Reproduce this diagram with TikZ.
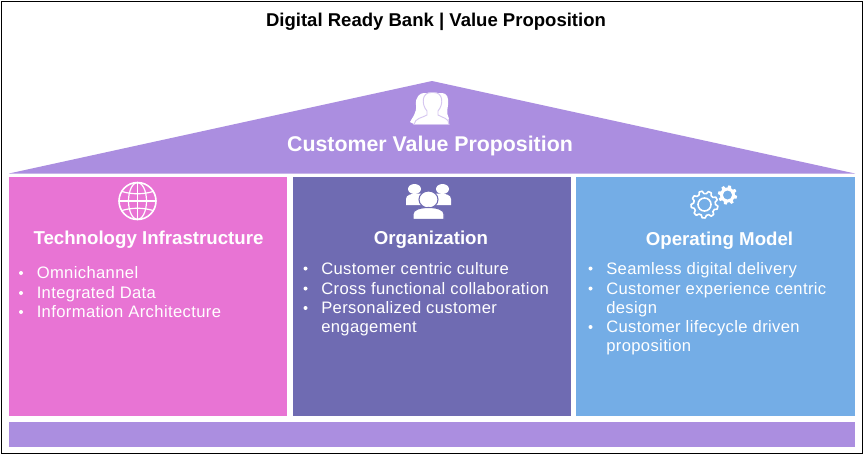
\documentclass[tikz,border=0pt]{standalone}
\usepackage{fontspec}
\setmainfont{Liberation Sans}
\newfontfamily\bodyfont[LetterSpace=2.2]{Liberation Sans}
\definecolor{roofc}{HTML}{AB8EE0}
\definecolor{roofl}{HTML}{D5C6F0}
\definecolor{pinkc}{HTML}{E874D4}
\definecolor{indigoc}{HTML}{6F6BB2}
\definecolor{bluec}{HTML}{74ADE6}
\newcommand{\bodyfs}{\bodyfont\fontsize{12.45pt}{14.5pt}\selectfont}
\tikzset{
  x=0.75pt,y=-0.75pt,
  panel/.style={fill=#1,draw=none},
  heading/.style={text=white,font=\bfseries\fontsize{14pt}{16pt}\selectfont,anchor=center,inner sep=0pt},
  item/.style={text=white,font=\bodyfs,anchor=base west,inner sep=0pt,align=left},
  dotb/.style={fill=white,draw=none},
  iconline/.style={draw=white,line width=1pt,fill=none},
  iconfill/.style={fill=white,draw=none},
}
\begin{document}
\begin{tikzpicture}
\useasboundingbox (0,0) rectangle (864,454);
\fill[white] (0,0) rectangle (864,454);
\draw[black,line width=0.75pt] (1,1) rectangle (862.5,453);
\node[inner sep=0pt,font=\bfseries\fontsize{13.9pt}{15pt}\selectfont] (title) at (436,22) {Digital Ready Bank | Value Proposition};
\fill[panel=roofc] (9,173.5) -- (432,81) -- (855,173.5) -- cycle;
\node[heading,font=\bfseries\fontsize{16pt}{17pt}\selectfont] (cvp) at (430,145.5) {Customer Value Proposition};
\fill[panel=pinkc] (9,177) rectangle (287,416);
\fill[panel=indigoc] (293,177) rectangle (571,416);
\fill[panel=bluec] (576,177) rectangle (855,416);
\fill[panel=roofc] (9,422) rectangle (855,447);
\node[heading] (h1) at (148.5,240) {Technology Infrastructure};
\node[heading] (h2) at (431,240) {Organization};
\node[heading] (h3) at (719.5,241) {Operating Model};
% people icon in roof: back figures
\fill[iconfill] (410,122) .. controls (412,118) and (417,113) .. (416,105) .. controls (415,97) and (420,93) .. (424,93) -- (442,93) .. controls (447,93) and (449,98) .. (448,105) .. controls (447,111) and (447,114) .. (448,116) .. controls (450,118) and (448,124) .. (446,124) -- (414,124) -- cycle;
% front figure outline
\draw[roofl,line width=.7pt,fill=white] (414,124.5) .. controls (415,118) and (422,118) .. (427,115) -- (427,111) .. controls (421,104) and (422,92.5) .. (431,92.5) -- (434,92.5) .. controls (443,92.5) and (444,104) .. (438,111) -- (438,115) .. controls (443,118) and (449,118) .. (449,124.5) -- cycle;
% globe icon
\begin{scope}[shift={(137.5,201)}]
\draw[iconline,line width=1.2pt] (0,0) circle[radius=18.5];
\draw[iconline,line width=.9pt] (0,0) ellipse[x radius=9,y radius=18.5];
\draw[iconline,line width=.9pt] (0,-18.5) -- (0,18.5) (-18.5,0) -- (18.5,0);
\draw[iconline,line width=.9pt] (-15.5,-9.5) .. controls (-6,-6.5) and (6,-6.5) .. (15.5,-9.5);
\draw[iconline,line width=.9pt] (-15.5,9.5) .. controls (-6,6.5) and (6,6.5) .. (15.5,9.5);
\end{scope}
% group icon
\begin{scope}[shift={(428.5,202)}]
\fill[iconfill] (-14,-13) ellipse[x radius=6.5,y radius=5];
\fill[iconfill] (14,-13) ellipse[x radius=6.5,y radius=5];
\fill[iconfill] (-22.5,3) -- (-22.5,-3) .. controls (-22.5,-7) and (-17,-8.5) .. (-12,-8.5) -- (-7,-8.5) -- (-7,3) -- cycle;
\fill[iconfill] (22.5,3) -- (22.5,-3) .. controls (22.5,-7) and (17,-8.5) .. (12,-8.5) -- (7,-8.5) -- (7,3) -- cycle;
\fill[iconfill,draw=indigoc,line width=.8pt] (0,-2.5) ellipse[x radius=9.5,y radius=8.5];
\fill[iconfill,draw=indigoc,line width=.8pt] (-15.5,17.5) -- (-15.5,12) .. controls (-15.5,7.5) and (-8,5.5) .. (0,5.5) .. controls (8,5.5) and (15.5,7.5) .. (15.5,12) -- (15.5,17.5) -- cycle;
\end{scope}
% gears
\begin{scope}[shift={(704.5,204.5)}]
\draw[iconline,line width=1.2pt,line join=round] (0:11)
 \foreach \a in {0,40,...,320}{ -- (\a+7:13.5) -- (\a+20:13.5) -- (\a+27:11) -- (\a+40:11) } -- cycle;
\draw[iconline,line width=1.2pt] (0,0) circle[radius=6.5];
\end{scope}
\begin{scope}[shift={(727.5,195)}]
\fill[iconfill,even odd rule] (0:7.5)
 \foreach \a in {0,45,...,315}{ -- (\a+6:9.7) -- (\a+22:9.7) -- (\a+28:7.5) -- (\a+45:7.5) } -- cycle (0,0) circle[radius=4.6];
\end{scope}
% lists
\foreach \nm/\x/\y/\t in {
 a1/36.5/278.5/Omnichannel,a2/36.5/298.5/Integrated Data,a3/36.5/317.5/Information Architecture,
 b1/321/274/Customer centric culture,b2/321/294/Cross functional collaboration,b3/321/313.5/Personalized customer,b4/321/332.5/engagement,
 c1/606/274/Seamless digital delivery,c2/606/294/Customer experience centric,c3/606/313.5/design,c4/606/332.5/Customer lifecycle driven,c5/606/351.5/proposition}
 {\node[item] (\nm) at (\x,\y) {\t};}
\foreach \x/\y in {21/273,21/293,21/312,305.5/268.5,305.5/288.5,305.5/308,590.5/268.5,590.5/288.5,590.5/327}
 {\fill[dotb] (\x,\y) circle[radius=2];}
\end{tikzpicture}
\end{document}
